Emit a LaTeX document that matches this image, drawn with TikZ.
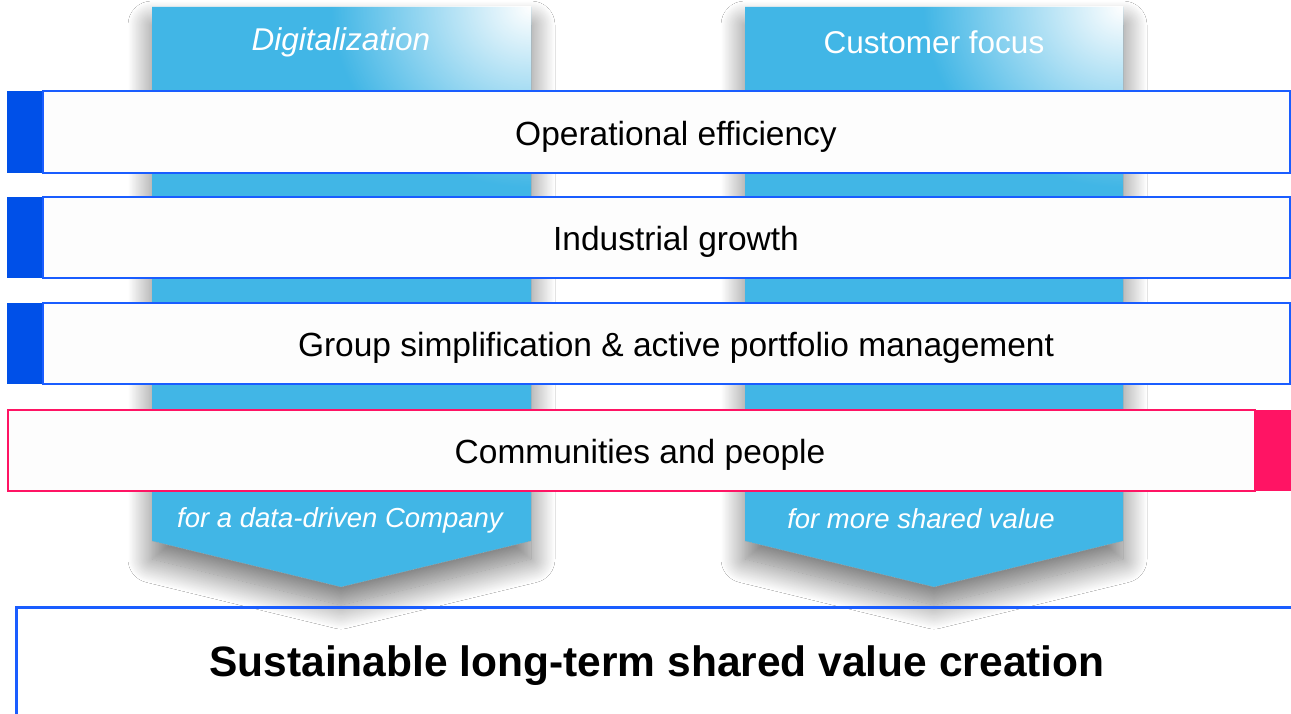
\documentclass[tikz,border=0pt]{standalone}
\usepackage{fontspec}
\setmainfont{Liberation Sans}
\usetikzlibrary{shadows.blur,fadings}
\definecolor{colblue}{HTML}{41B6E6}
\definecolor{tabblue}{HTML}{0050E8}
\definecolor{lineblue}{HTML}{1A5DFF}
\definecolor{pinkc}{HTML}{FF1464}
\definecolor{rowfill}{HTML}{FDFDFD}
\tikzfading[name=cornerfade, inner color=transparent!0, outer color=transparent!100]
\begin{document}
\begin{tikzpicture}[x=1pt,y=-1pt,
  column/.style={fill=colblue, blur shadow={shadow xshift=0pt, shadow yshift=-18pt, shadow blur radius=24pt, shadow blur steps=30, shadow opacity=55}},
  coltext/.style={text=white, font=\fontsize{31.5}{36}\selectfont, inner sep=0pt},
  colsub/.style={text=white, font=\fontsize{27.5}{32}\selectfont\itshape, inner sep=0pt},
  rowbox/.style={draw=lineblue, line width=2.5pt, fill=rowfill},
  pinkbox/.style={draw=pinkc, line width=2.5pt, fill=rowfill},
  rowtext/.style={text=black, font=\fontsize{33.5}{38}\selectfont, inner sep=0pt},
  bigtext/.style={text=black, font=\fontsize{42.5}{48}\selectfont\bfseries, inner sep=0pt}]
\useasboundingbox (0,0) rectangle (1291,714);
\clip (0,0) rectangle (1291,714);
\fill[white] (0,0) rectangle (1291,714);

% columns
\fill[column] (152,7) -- (531,7) -- (531,541) -- (341,587) -- (152,541) -- cycle;
\fill[column] (745,7) -- (1123,7) -- (1123,541) -- (934,587) -- (745,541) -- cycle;
\begin{scope}
  \clip (152,7) rectangle (531,200);
  \fill[white, path fading=cornerfade, fit fading=true] (331,-173) rectangle (731,187);
\end{scope}
\begin{scope}
  \clip (745,7) rectangle (1123,200);
  \fill[white, path fading=cornerfade, fit fading=true] (923,-173) rectangle (1323,187);
\end{scope}
\draw[gray!70, line width=0.6pt, densely dotted] (152,541) -- (341,587) -- (531,541);
\draw[gray!70, line width=0.6pt, densely dotted] (745,541) -- (934,587) -- (1123,541);

\node[coltext, font=\fontsize{31.5}{36}\selectfont\itshape] (dig) at (341,42) {Digitalization};
\node[coltext] (cust) at (934,42) {Customer focus};
\node[colsub] (digsub) at (340,520) {for a data-driven Company};
\node[colsub] (custsub) at (921,519) {for more shared value};

% rows
\fill[tabblue] (7,91) rectangle (43,173);
\draw[rowbox] (43,91) rectangle (1290,173);
\node[rowtext] (r1) at (676,137) {Operational efficiency};

\fill[tabblue] (7,197) rectangle (43,278);
\draw[rowbox] (43,197) rectangle (1290,278);
\node[rowtext] (r2) at (676,242) {Industrial growth};

\fill[tabblue] (7,303) rectangle (43,384);
\draw[rowbox] (43,303) rectangle (1290,384);
\node[rowtext] (r3) at (676,348) {Group simplification \& active portfolio management};

\fill[pinkc] (1255,410) rectangle (1291,491);
\draw[pinkbox] (8,410) rectangle (1255,491);
\node[rowtext] (r4) at (640,455) {Communities and people};

% bottom box
\draw[lineblue, line width=3pt] (16,725) -- (16,607) -- (1300,607);
\node[bigtext] (goal) at (657,666) {Sustainable long-term shared value creation};
\end{tikzpicture}
\end{document}
